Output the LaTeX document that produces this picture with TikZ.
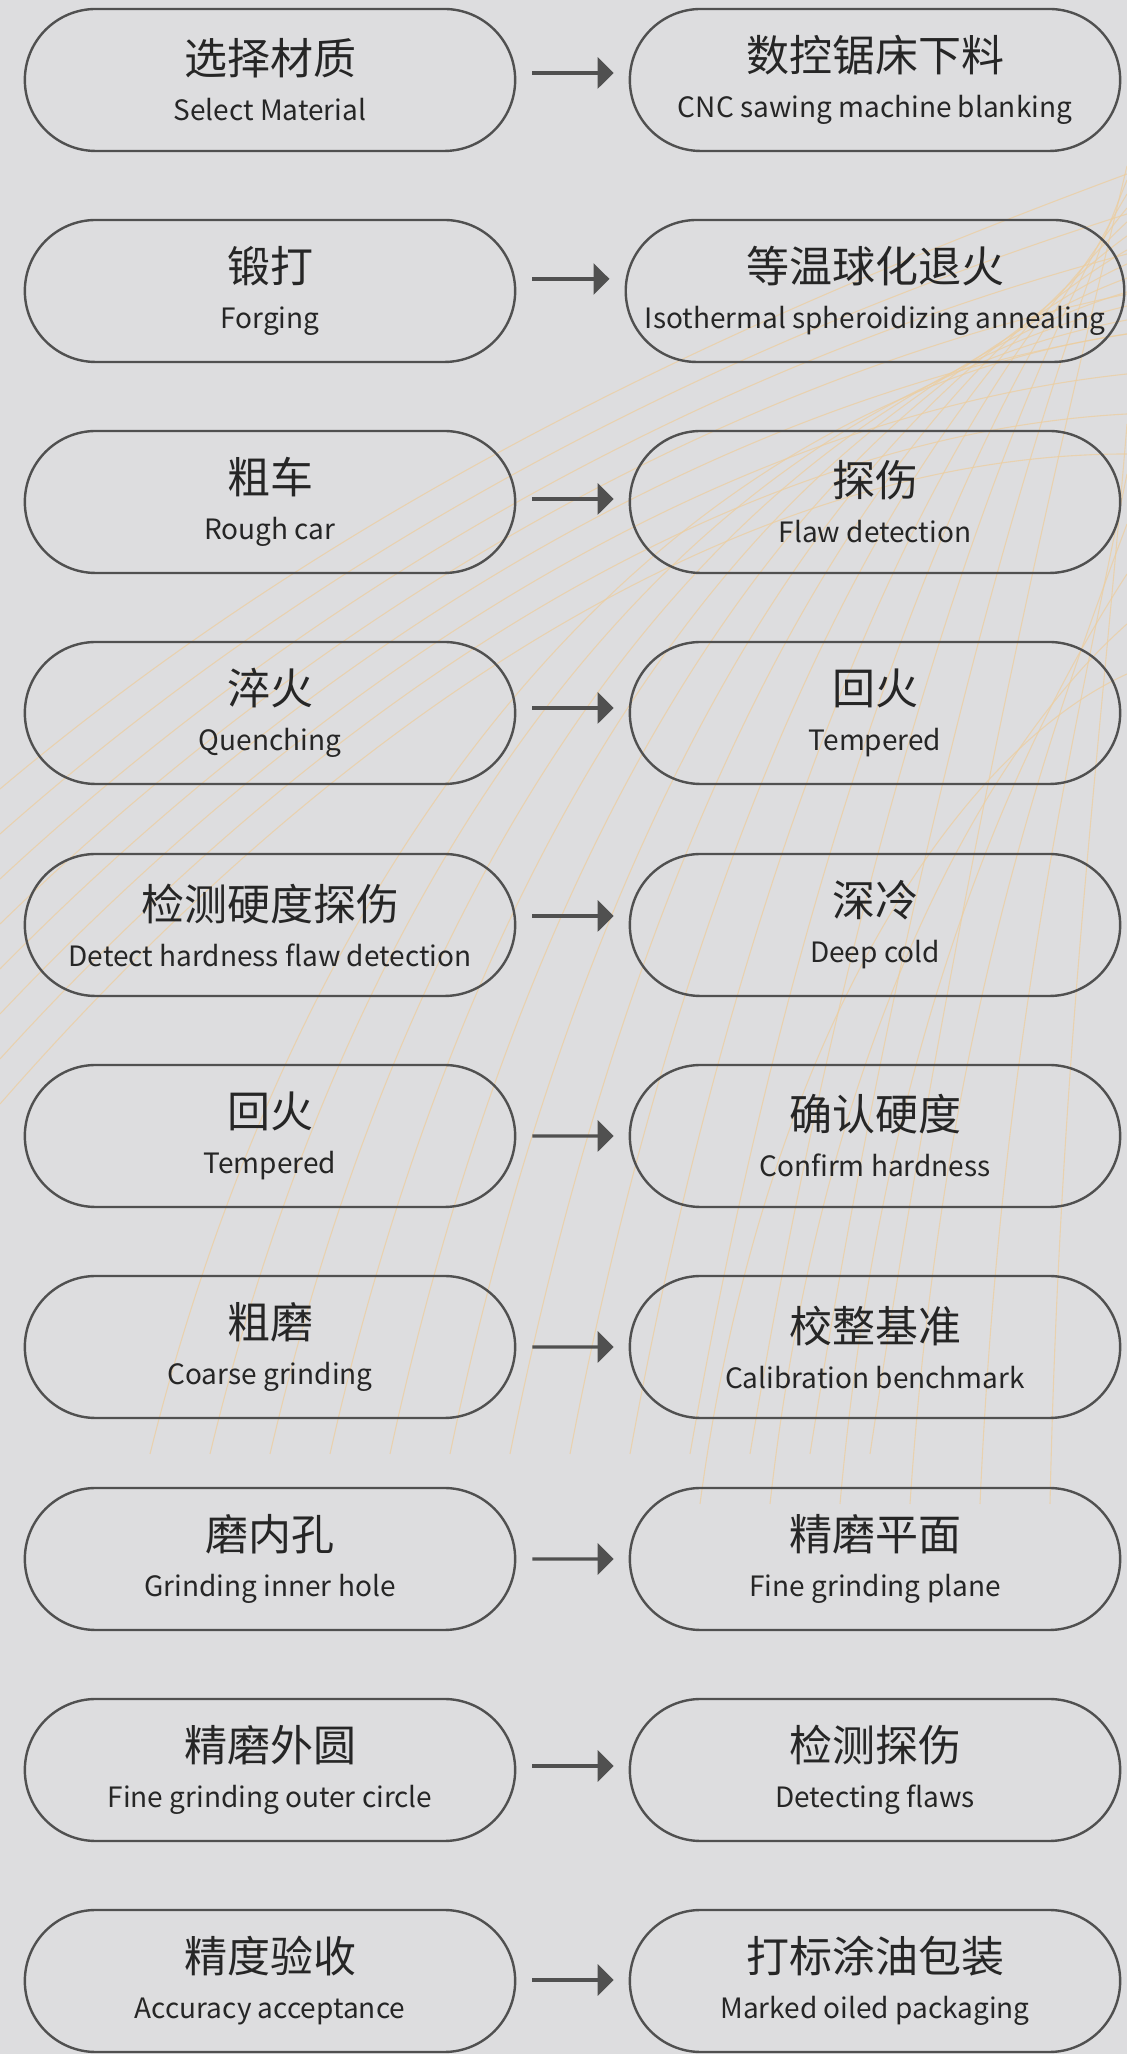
\documentclass[tikz,border=0pt]{standalone}
\usepackage{fontspec}
\setmainfont{Noto Sans CJK SC}
\usetikzlibrary{shapes.misc,arrows.meta}
\definecolor{bgGrey}{RGB}{221,221,223}
\definecolor{lineGrey}{RGB}{80,80,80}
\definecolor{sparkColor}{RGB}{236,206,160}
\newcommand{\zh}[1]{{\fontsize{43}{46}\selectfont #1}}

\begin{document}
\begin{tikzpicture}[x=1pt, y=1pt,
    stage/.style={rounded rectangle, draw=lineGrey, line width=2.4pt, minimum width=497pt, minimum height=142pt, align=center, text=black!85, font=\fontsize{28}{46}\selectfont},
    flow/.style={-{Triangle[length=16pt, width=31pt]}, line width=3.2pt, draw=lineGrey, shorten <=16pt, shorten >=15pt},
    spark/.style={draw=sparkColor, line width=1.1pt, opacity=0.75}]
    % Background
    \fill[bgGrey] (0,0) rectangle (1127,2054);
    \useasboundingbox (0,0) rectangle (1127,2054);
    % sparks
    \foreach \i in {0,...,12}
        \draw[spark] (150+60*\i,600) .. controls (300+55*\i,1200) and (650+35*\i,1650) .. (1127,1720+14*\i);
    \foreach \i in {0,...,7}
        \draw[spark] (0,950+45*\i) .. controls (350,1350+30*\i) and (750,1600+20*\i) .. (1127,1600+40*\i);
    \foreach \i in {0,...,5}
        \draw[spark] (700+70*\i,550) .. controls (760+60*\i,1000) and (950+30*\i,1300) .. (1127,1380+50*\i);

    % Process steps
    \node[stage] (l1) at (270,1974) {\zh{选择材质}\\ Select Material};
    \node[stage] (r1) at (875,1974) {\zh{数控锯床下料}\\ CNC sawing machine blanking};
    \node[stage] (l2) at (270,1763) {\zh{锻打}\\ Forging};
    \node[stage] (r2) at (875,1763) {\zh{等温球化退火}\\ Isothermal spheroidizing annealing};
    \node[stage] (l3) at (270,1552) {\zh{粗车}\\ Rough car};
    \node[stage] (r3) at (875,1552) {\zh{探伤}\\ Flaw detection};
    \node[stage] (l4) at (270,1341) {\zh{淬火}\\ Quenching};
    \node[stage] (r4) at (875,1341) {\zh{回火}\\ Tempered};
    \node[stage] (l5) at (270,1129) {\zh{检测硬度探伤}\\ Detect hardness flaw detection};
    \node[stage] (r5) at (875,1129) {\zh{深冷}\\ Deep cold};
    \node[stage] (l6) at (270,918) {\zh{回火}\\ Tempered};
    \node[stage] (r6) at (875,918) {\zh{确认硬度}\\ Confirm hardness};
    \node[stage] (l7) at (270,707) {\zh{粗磨}\\ Coarse grinding};
    \node[stage] (r7) at (875,707) {\zh{校整基准}\\ Calibration benchmark};
    \node[stage] (l8) at (270,495) {\zh{磨内孔}\\ Grinding inner hole};
    \node[stage] (r8) at (875,495) {\zh{精磨平面}\\ Fine grinding plane};
    \node[stage] (l9) at (270,284) {\zh{精磨外圆}\\ Fine grinding outer circle};
    \node[stage] (r9) at (875,284) {\zh{检测探伤}\\ Detecting flaws};
    \node[stage] (l10) at (270,73) {\zh{精度验收}\\ Accuracy acceptance};
    \node[stage] (r10) at (875,73) {\zh{打标涂油包装}\\ Marked oiled packaging};

    \draw[flow] ([yshift=7pt]l1.east) -- ([yshift=7pt]r1.west);
    \draw[flow] ([yshift=12pt]l2.east) -- ([yshift=12pt]r2.west);
    \draw[flow] ([yshift=3pt]l3.east) -- ([yshift=3pt]r3.west);
    \draw[flow] ([yshift=5pt]l4.east) -- ([yshift=5pt]r4.west);
    \draw[flow] ([yshift=9pt]l5.east) -- ([yshift=9pt]r5.west);
    \draw[flow] (l6) -- (r6);
    \draw[flow] (l7) -- (r7);
    \draw[flow] (l8) -- (r8);
    \draw[flow] ([yshift=4pt]l9.east) -- ([yshift=4pt]r9.west);
    \draw[flow] ([yshift=1pt]l10.east) -- ([yshift=1pt]r10.west);
\end{tikzpicture}
\end{document}
